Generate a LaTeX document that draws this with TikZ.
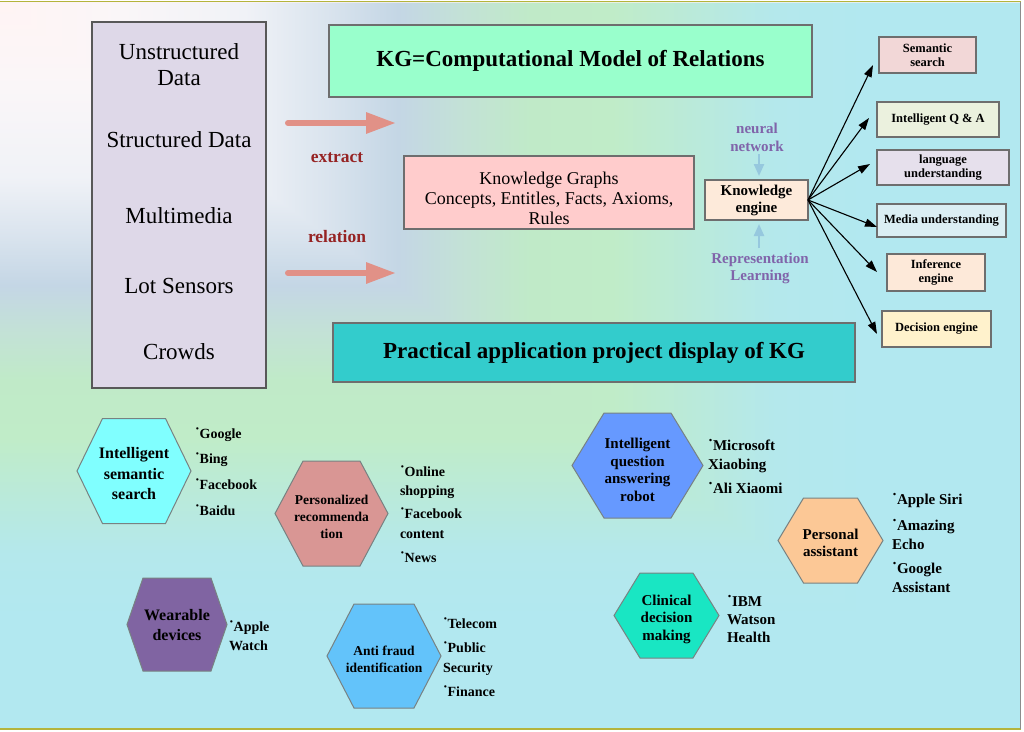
\documentclass[tikz,border=0pt]{standalone}
\usepackage{fontspec}
\setmainfont{Liberation Serif}
\usetikzlibrary{arrows.meta}
\definecolor{g0}{RGB}{255,244,244}
\definecolor{g1}{RGB}{250,246,248}
\definecolor{g2}{RGB}{240,242,247}
\definecolor{g3}{RGB}{218,228,238}
\definecolor{g4}{RGB}{196,214,229}
\definecolor{g5}{RGB}{195,225,215}
\definecolor{g6}{RGB}{192,234,200}
\definecolor{g7}{RGB}{192,236,200}
\definecolor{g8}{RGB}{186,234,218}
\definecolor{g9}{RGB}{180,232,236}
\definecolor{g10}{RGB}{178,232,240}
\pgfdeclarehorizontalshading{bgh}{100bp}{color(0bp)=(g0); color(25bp)=(g0); color(31bp)=(g1); color(37bp)=(g2); color(41bp)=(g3); color(44.5bp)=(g4); color(47.5bp)=(g5); color(51bp)=(g6); color(55bp)=(g7); color(59bp)=(g8); color(63bp)=(g9); color(67.5bp)=(g10); color(75bp)=(g10); color(100bp)=(g10)}
\pgfdeclareverticalshading{bgv}{100bp}{color(0bp)=(g10); color(25bp)=(g10); color(32.5bp)=(g10); color(37bp)=(g9); color(41bp)=(g8); color(45bp)=(g7); color(49bp)=(g6); color(52.5bp)=(g5); color(55.5bp)=(g4); color(59bp)=(g3); color(63bp)=(g2); color(69bp)=(g1); color(75bp)=(g0); color(100bp)=(g0)}
\definecolor{boxgray}{RGB}{110,110,110}
\definecolor{hexgray}{RGB}{120,130,130}
\definecolor{srcfill}{RGB}{222,216,232}
\definecolor{kgfill}{RGB}{153,255,204}
\definecolor{kgbfill}{RGB}{255,204,204}
\definecolor{pracfill}{RGB}{51,204,204}
\definecolor{engfill}{RGB}{253,234,218}
\definecolor{arrowpink}{RGB}{225,145,135}
\definecolor{darkred}{RGB}{150,35,35}
\definecolor{purp}{RGB}{128,100,170}
\definecolor{lblue}{RGB}{150,200,222}
\definecolor{semfill}{RGB}{242,215,215}
\definecolor{qafill}{RGB}{235,241,222}
\definecolor{langfill}{RGB}{230,224,236}
\definecolor{medfill}{RGB}{219,238,243}
\definecolor{inffill}{RGB}{253,233,217}
\definecolor{decfill}{RGB}{255,242,204}
\definecolor{hcyan}{RGB}{128,255,255}
\definecolor{hsalmon}{RGB}{217,150,148}
\definecolor{hpurple}{RGB}{128,100,162}
\definecolor{hlblue}{RGB}{99,195,250}
\definecolor{hblue}{RGB}{102,153,255}
\definecolor{hpeach}{RGB}{252,200,150}
\definecolor{hteal}{RGB}{25,230,195}
\definecolor{olive}{RGB}{180,180,60}
\definecolor{edgegray}{RGB}{140,140,140}
\newcommand\fs[2]{\fontsize{#1}{#2}\selectfont}
\newcommand\bdot{\raisebox{0.36em}{·}}
\newcommand\hexa[6]{\draw[hexline, fill=#6] ({#1-#3},#2) -- ({#1-#4},{#2-#5}) -- ({#1+#4},{#2-#5}) -- ({#1+#3},#2) -- ({#1+#4},{#2+#5}) -- ({#1-#4},{#2+#5}) -- cycle;}
\begin{document}
\begin{tikzpicture}[x=1pt,y=-1pt,
  every node/.style={inner sep=0pt, outer sep=0pt},
  panel/.style={draw=boxgray, line width=1.2pt, inner sep=0pt, align=center},
  rbox/.style={panel, font=\bfseries\fs{12.5}{14}},
  txt/.style={align=center, inner sep=0pt},
  lst/.style={anchor=west, align=left, inner sep=0pt},
  hexline/.style={draw=hexgray, line width=1pt},
  fat/.style={line width=6pt, draw=arrowpink, line cap=round, -{Triangle[length=30pt,width=20pt]}},
  lbarrow/.style={line width=2.2pt, draw=lblue, -{Triangle[length=12pt,width=10pt]}},
  blk/.style={line width=1.1pt, draw=black, -{Triangle[length=12pt,width=8pt]}}]
\useasboundingbox (0,0) rectangle (1024,731);
\fill[white] (0,0) rectangle (1024,731);
% background gradient (from top-left corner)
\shade[shading=bgv] (0,2.5) rectangle (1020,728);
\begin{scope}
\clip (0,2.5) -- (1020,2.5) -- (1020,728) -- cycle;
\shade[shading=bgh] (0,2.5) rectangle (1020,728);
\end{scope}
\draw[olive, line width=1.5pt] (0,1.5) -- (1021,1.5);
\draw[olive, line width=1.5pt] (0,728.8) -- (1021,728.8);
\draw[edgegray, line width=1.5pt] (1020.5,1.5) -- (1020.5,728.8);

% left source panel
\node[panel, draw=boxgray!80!black, fill=srcfill, minimum width=174pt, minimum height=366pt] (src) at (179,205) {};
\node[txt, font=\fs{23}{26}] (s1) at (179,65) {Unstructured\\Data};
\node[txt, font=\fs{23}{26}] (s2) at (179,140) {Structured Data};
\node[txt, font=\fs{23}{26}] (s3) at (179,216) {Multimedia};
\node[txt, font=\fs{23}{26}] (s4) at (179,286) {Lot Sensors};
\node[txt, font=\fs{23}{26}] (s5) at (179,352) {Crowds};

% title boxes
\node[panel, fill=kgfill, minimum width=483pt, minimum height=72pt, font=\bfseries\fs{23}{26}] (kg) at (570.5,61) {KG=Computational Model of Relations};
\node[panel, fill=pracfill, minimum width=522pt, minimum height=59pt, font=\bfseries\fs{23}{26}] (prac) at (594,352.5) {Practical application project display of KG};

% knowledge graphs box
\node[panel, fill=kgbfill, minimum width=290pt, minimum height=73pt] (kgb) at (549,192.5) {};
\node[txt, font=\fs{18}{20}] (kgbt) at (549,198) {Knowledge Graphs\\Concepts, Entitles, Facts, Axioms,\\Rules};

% pink arrows
\coordinate (p1s) at (288,123);
\coordinate (p1e) at (396,123);
\coordinate (p2s) at (288,273);
\coordinate (p2e) at (396,273);
\draw[fat] (p1s) -- (p1e);
\draw[fat] (p2s) -- (p2e);
\node[txt, text=darkred, font=\bfseries\fs{17.5}{19}] (ext) at (337,158) {extract};
\node[txt, text=darkred, font=\bfseries\fs{17.5}{19}] (rel) at (337,237) {relation};

% knowledge engine
\node[panel, fill=engfill, minimum width=103pt, minimum height=40pt, font=\bfseries\fs{15}{17}] (eng) at (756.5,200) {Knowledge\\engine};
\node[txt, text=purp, font=\bfseries\fs{15}{18}] (nn) at (757,137) {neural\\network};
\node[txt, text=purp, font=\bfseries\fs{15}{17}] (rl) at (760,268.5) {Representation\\Learning};
\coordinate (nnb) at (759,154);
\coordinate (rlt) at (759,248);
\draw[lbarrow, shorten >=4pt] (nnb) -- (eng.north -| nnb);
\draw[lbarrow, shorten >=4pt] (rlt) -- (eng.south -| rlt);

% right boxes
\node[rbox, fill=semfill, minimum width=97pt, minimum height=36pt] (sem) at (927.5,55) {Semantic\\search};
\node[rbox, fill=qafill, minimum width=122pt, minimum height=35pt] (qa) at (938,119.5) {Intelligent Q \& A};
\node[rbox, fill=langfill, minimum width=132pt, minimum height=35pt] (lang) at (943,167.5) {language\\understanding};
\node[rbox, fill=medfill, minimum width=129pt, minimum height=33pt] (med) at (941.5,220.5) {Media understanding};
\node[rbox, fill=inffill, minimum width=98pt, minimum height=37pt] (inf) at (936,272.5) {Inference\\engine};
\node[rbox, fill=decfill, minimum width=109pt, minimum height=36pt] (dec) at (936.5,329) {Decision engine};

\coordinate (t1) at (873,65);
\coordinate (t2) at (869,118);
\coordinate (t3) at (870,164);
\coordinate (t4) at (877,227);
\coordinate (t5) at (877,272);
\coordinate (t6) at (877,334);
\foreach \t in {t1,t2,t3,t4,t5,t6} \draw[blk] (eng.east) -- (\t);

% hexagons
\hexa{134}{471}{57}{31.5}{52.5}{hcyan}
\node[txt, font=\bfseries\fs{16}{20.5}] (h1) at (134,474) {Intelligent\\semantic\\search};
\node[lst, font=\bfseries\fs{14}{25.7}] (l1) at (195,471.5) {\bdot Google\\\bdot Bing\\\bdot Facebook\\\bdot Baidu};

\hexa{331.5}{513.5}{56.5}{28.5}{52.5}{hsalmon}
\node[txt, font=\bfseries\fs{13.5}{17}] (h2) at (331.5,517) {Personalized\\recommenda\\tion};
\node[lst, font=\bfseries\fs{14}{19.5}] (l2) at (400,514) {\bdot Online\\shopping\\[3.5pt]\bdot Facebook\\content\\[4.5pt]\bdot News};

\hexa{177}{624.5}{50}{34}{46.5}{hpurple}
\node[txt, font=\bfseries\fs{16}{20}] (h3) at (177,625) {Wearable\\devices};
\node[lst, font=\bfseries\fs{14}{19}] (l3) at (229,635.5) {\bdot Apple\\Watch};

\hexa{384}{656}{57}{30}{52}{hlblue}
\node[txt, font=\bfseries\fs{13.5}{17.5}] (h4) at (384,659.5) {Anti fraud\\identification};
\node[lst, font=\bfseries\fs{14}{19.5}] (l4) at (443,657) {\bdot Telecom\\[5pt]\bdot Public\\Security\\[4.5pt]\bdot Finance};

\hexa{637.5}{465.5}{65.5}{33.5}{52.5}{hblue}
\node[txt, font=\bfseries\fs{15}{17.5}] (h5) at (637.5,470) {Intelligent\\question\\answering\\robot};
\node[lst, font=\bfseries\fs{15}{19}] (l5) at (708,466.5) {\bdot Microsoft\\Xiaobing\\[5pt]\bdot Ali Xiaomi};

\hexa{830.5}{540.5}{52.5}{27}{42.5}{hpeach}
\node[txt, font=\bfseries\fs{15}{17}] (h6) at (830.5,543) {Personal\\assistant};
\node[lst, font=\bfseries\fs{15}{19}] (l6) at (892,543) {\bdot Apple Siri\\[7pt]\bdot Amazing\\Echo\\[5pt]\bdot Google\\Assistant};

\hexa{666.5}{615.5}{52.5}{26.5}{42.5}{hteal}
\node[txt, font=\bfseries\fs{15}{17.5}] (h7) at (666.5,619) {Clinical\\decision\\making};
\node[lst, font=\bfseries\fs{15}{18}] (l7) at (727,619) {\bdot IBM\\Watson\\Health};
\end{tikzpicture}
\end{document}
